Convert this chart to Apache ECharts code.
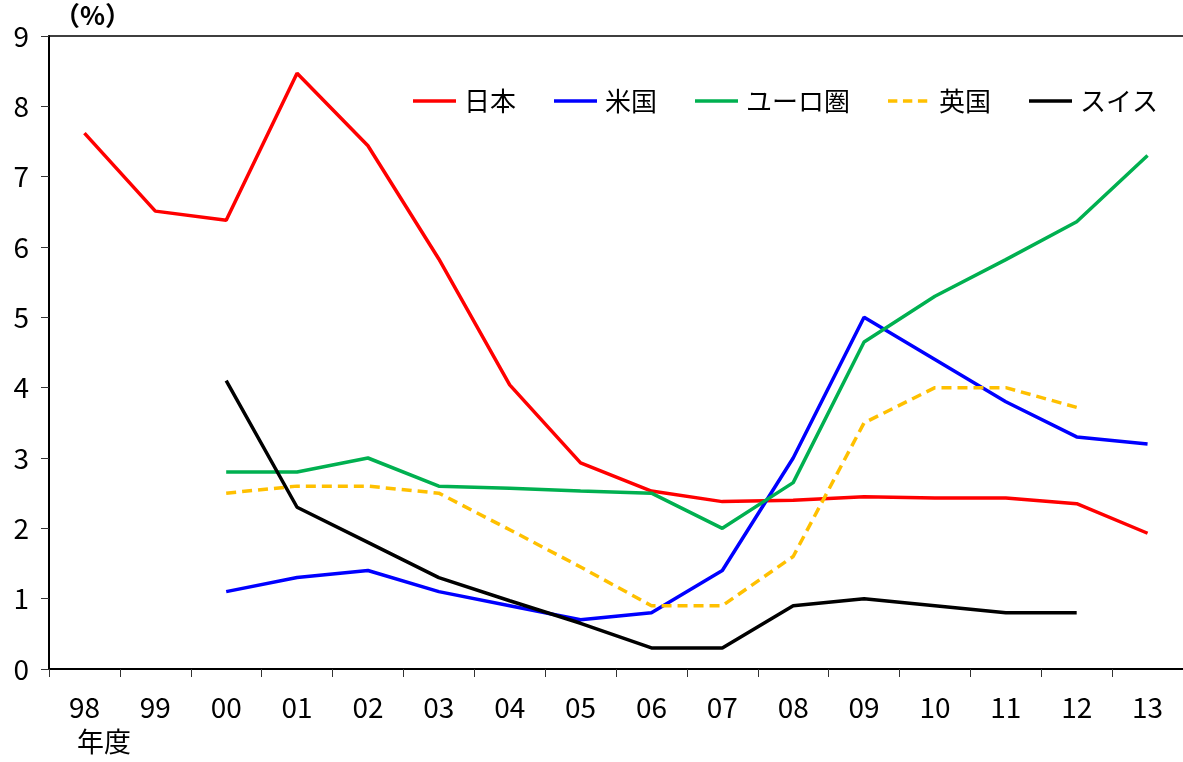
<!DOCTYPE html>
<html>
<head>
<meta charset="utf-8">
<script src="https://cdn.jsdelivr.net/npm/echarts@6/dist/echarts.min.js"></script>
<style>
  html, body { margin: 0; padding: 0; background: #fff; }
  #chart { width: 1183px; height: 762px; }
</style>
</head>
<body>
<div id="chart"></div>
<script>
// Fiscal years (年度) on the category axis
const years = ['98', '99', '00', '01', '02', '03', '04', '05', '06', '07', '08', '09', '10', '11', '12', '13'];

// Values in percent
const japan = [7.62, 6.51, 6.38, 8.47, 7.44, 5.83, 4.04, 2.93, 2.53, 2.38, 2.40, 2.45, 2.43, 2.43, 2.35, 1.93];
const usa   = [null, null, 1.1, 1.3, 1.4, 1.1, 0.9, 0.7, 0.8, 1.4, 3.0, 5.0, 4.4, 3.8, 3.3, 3.2];
const euro  = [null, null, 2.8, 2.8, 3.0, 2.6, 2.57, 2.53, 2.5, 2.0, 2.65, 4.65, 5.3, 5.82, 6.36, 7.3];
const uk    = [null, null, 2.5, 2.6, 2.6, 2.5, 1.98, 1.45, 0.9, 0.9, 1.6, 3.5, 4.0, 4.0, 3.72, null];
const swiss = [null, null, 4.1, 2.3, 1.8, 1.3, 0.97, 0.65, 0.3, 0.3, 0.9, 1.0, 0.9, 0.8, 0.8, null];

const seriesNames = ['日本', '米国', 'ユーロ圏', '英国', 'スイス'];

const numFont = '"Noto Sans CJK JP", sans-serif';
const jpFont = '"Noto Sans CJK JP", sans-serif';

// legend keys: a solid bar, or a dashed bar for the dashed series
const solidKey = 'path://M0,0H46V4H0Z';
const dashedKey = 'path://M0,0H10V4H0Z M16,0H26V4H16Z M32,0H42V4H32Z M46,0H46V4H46Z';

const chart = echarts.init(document.getElementById('chart'), null, { renderer: 'canvas' });

function lineSeries(name, data, color, dashed) {
  return {
    name: name,
    type: 'line',
    data: data,
    symbol: 'none',
    showSymbol: false,
    connectNulls: false,
    lineStyle: { color: color, width: 3.5, type: dashed ? [10, 6] : 'solid' },
    itemStyle: { color: color },
    emphasis: { disabled: true },
    animation: false
  };
}

chart.setOption({
  animation: false,
  backgroundColor: '#ffffff',
  grid: { left: 49, right: 0, top: 36, bottom: 93, containLabel: false },
  legend: {
    data: seriesNames.map((n, i) => ({ name: n, icon: i === 3 ? dashedKey : solidKey })),
    left: 408,
    top: 83,
    itemWidth: 43,
    itemHeight: 4,
    itemGap: 38,
    textStyle: { fontFamily: jpFont, fontSize: 26, color: '#000', padding: [0, 0, 0, 3] }
  },
  xAxis: [{
    type: 'category',
    data: years,
    boundaryGap: true,
    axisLine: { lineStyle: { color: '#000', width: 2 } },
    axisTick: { show: true, inside: false, length: 8, interval: 0, lineStyle: { color: '#333', width: 1 } },
    axisLabel: { interval: 0, margin: 24, fontFamily: numFont, fontSize: 28, color: '#000' },
    splitLine: { show: false }
  }, {
    // frame line along the top of the plot
    type: 'category',
    data: years,
    position: 'top',
    axisLine: { show: true, lineStyle: { color: '#000', width: 1.5 } },
    axisTick: { show: false },
    axisLabel: { show: false },
    splitLine: { show: false }
  }],
  yAxis: {
    type: 'value',
    min: 0,
    max: 9,
    interval: 1,
    axisLine: { show: true, lineStyle: { color: '#000', width: 2 } },
    axisTick: { show: true, inside: false, length: 8, lineStyle: { color: '#333', width: 1 } },
    axisLabel: { margin: 20, fontFamily: numFont, fontSize: 28, color: '#000' },
    splitLine: { show: false }
  },
  graphic: [
    {
      type: 'text', left: 54, top: 2,
      style: { text: '（%）', font: 'bold 26px "Noto Sans CJK JP", sans-serif', fill: '#000' }
    },
    {
      type: 'text', left: 77, top: 728,
      style: { text: '年度', font: '27px "Noto Sans CJK JP", sans-serif', fill: '#000' }
    }
  ],
  series: [
    lineSeries('日本', japan, '#ff0000', false),
    lineSeries('米国', usa, '#0000ff', false),
    lineSeries('ユーロ圏', euro, '#00b050', false),
    lineSeries('英国', uk, '#ffc000', true),
    lineSeries('スイス', swiss, '#000000', false)
  ]
});
</script>
</body>
</html>
